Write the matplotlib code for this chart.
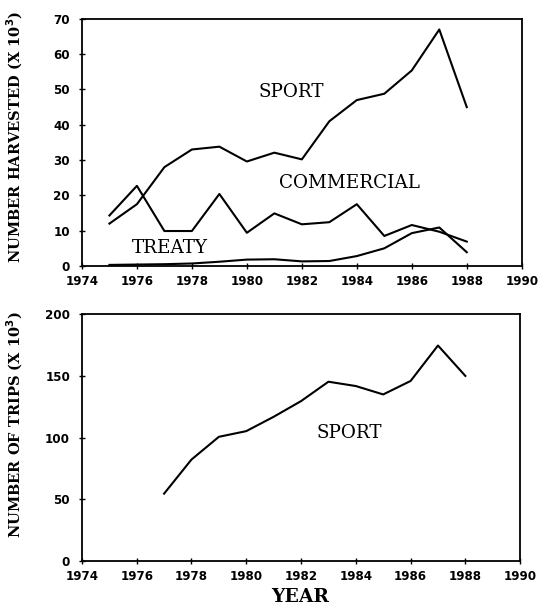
import matplotlib
matplotlib.use("Agg")
import matplotlib.pyplot as plt

years = [1975, 1976, 1977, 1978, 1979, 1980, 1981, 1982, 1983, 1984, 1985, 1986, 1987, 1988]
sport_harvest = [12.0, 17.5, 28.0, 33.0, 33.8, 29.6, 32.1, 30.2, 41.0, 47.0, 48.8, 55.4, 67.0, 45.0]
commercial_harvest = [14.3, 22.7, 9.9, 9.9, 20.4, 9.4, 14.9, 11.8, 12.4, 17.5, 8.5, 11.6, 9.7, 6.9]
treaty_harvest = [0.3, 0.4, 0.5, 0.7, 1.2, 1.8, 1.9, 1.3, 1.4, 2.8, 5.0, 9.3, 10.9, 3.9]

trip_years = [1977, 1978, 1979, 1980, 1981, 1982, 1983, 1984, 1985, 1986, 1987, 1988]
sport_trips = [54.7, 82.3, 100.7, 105.3, 116.9, 129.6, 145.3, 141.8, 135.0, 145.9, 174.6, 150.0]

xticks = list(range(1974, 1991, 2))
yticks_top = list(range(0, 71, 10))
yticks_bot = [0, 50, 100, 150, 200]

W, H = 539, 610
fig = plt.figure(figsize=(W / 100, H / 100), dpi=100)
ax1 = fig.add_axes([0.152, 0.564, 0.816, 0.405])
ax2 = fig.add_axes([0.152, 0.080, 0.813, 0.405])

tickfont = dict(family="DejaVu Sans", weight="bold", size=8.6)
labfont = dict(family="DejaVu Serif", weight="bold", size=10.5)
txtfont = dict(family="DejaVu Serif", size=13.2)

lw = 1.5
ax1.plot(years, sport_harvest, color="black", lw=lw)
ax1.plot(years, commercial_harvest, color="black", lw=lw)
ax1.plot(years, treaty_harvest, color="black", lw=lw)
ax1.set_xlim(1974, 1990)
ax1.set_ylim(0, 70)
ax1.set_yticks(yticks_top)
ax1.text(1981.6, 49.3, "SPORT", ha="center", va="center", **txtfont)
ax1.text(1983.75, 23.5, "COMMERCIAL", ha="center", va="center", **txtfont)
ax1.text(1977.2, 5.1, "TREATY", ha="center", va="center", **txtfont)
fig.text(15 / W, 1 - 137 / H, r"NUMBER HARVESTED (X 10$^{\mathbf{3}}$)",
         rotation=90, ha="center", va="center", **labfont)

ax2.plot(trip_years, sport_trips, color="black", lw=lw)
ax2.set_xlim(1974, 1990)
ax2.set_ylim(0, 200)
ax2.set_yticks(yticks_bot)
ax2.text(1983.75, 104, "SPORT", ha="center", va="center", **txtfont)
fig.text(15 / W, 1 - 425 / H, r"NUMBER OF TRIPS (X 10$^{\mathbf{3}}$)",
         rotation=90, ha="center", va="center", **labfont)
fig.text(300 / W, 1 - 597 / H, "YEAR", ha="center", va="center",
         family="DejaVu Serif", weight="bold", size=13.5)

for ax in (ax1, ax2):
    ax.set_xticks(xticks)
    ax.tick_params(axis="x", direction="inout", length=5, width=1, pad=4)
    ax.tick_params(axis="y", direction="inout", length=5, width=1, pad=6)
    for lab in ax.get_xticklabels() + ax.get_yticklabels():
        lab.set_fontfamily(tickfont["family"])
        lab.set_fontweight(tickfont["weight"])
        lab.set_fontsize(tickfont["size"])
    for sp in ax.spines.values():
        sp.set_linewidth(1.3)

fig.savefig("out.png", dpi=100)
